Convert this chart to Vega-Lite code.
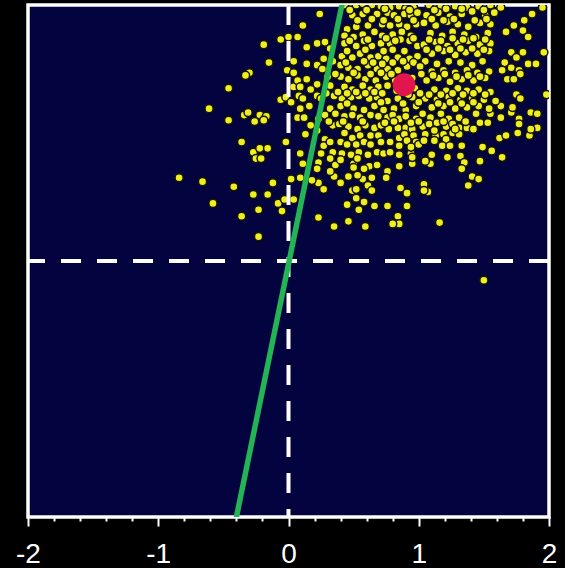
{
  "$schema": "https://vega.github.io/schema/vega-lite/v6.json",
  "width": 521,
  "height": 512,
  "autosize": "none",
  "padding": {"left": 28, "top": 5, "right": 16, "bottom": 51},
  "background": "black",
  "config": {"view": {"fill": "#03033f", "stroke": "white", "strokeWidth": 3.5}},
  "datasets": {
    "samples": [
      {"x":-0.15,"y":1.55},{"x":-0.30,"y":1.47},{"x":-0.33,"y":1.45},{"x":-0.01,"y":1.49},{"x":-0.46,"y":1.35},{"x":-0.61,"y":1.19},{"x":-0.46,"y":1.10},{"x":-0.34,"y":1.14},{"x":-0.31,"y":1.16},{"x":-0.22,"y":1.14},{"x":-0.17,"y":1.13},{"x":-0.26,"y":1.09},{"x":-0.19,"y":1.10},{"x":-0.06,"y":1.26},{"x":-0.02,"y":1.28},{"x":0.02,"y":1.24},{"x":-0.36,"y":0.93},{"x":-0.02,"y":0.93},{"x":-0.27,"y":0.85},{"x":-0.22,"y":0.88},{"x":-0.16,"y":0.88},{"x":-0.25,"y":0.80},{"x":-0.21,"y":0.80},{"x":-0.84,"y":0.65},{"x":-0.66,"y":0.62},{"x":-0.42,"y":0.58},{"x":-0.12,"y":0.61},{"x":0.02,"y":0.64},{"x":-0.27,"y":0.52},{"x":-0.16,"y":0.52},{"x":-0.58,"y":0.45},{"x":-0.08,"y":0.45},{"x":-0.03,"y":0.48},{"x":-0.05,"y":0.39},{"x":-0.23,"y":0.40},{"x":-0.36,"y":0.35},{"x":-0.23,"y":0.19},{"x":0.04,"y":0.48},
      {"x":0.24,"y":1.93},{"x":0.11,"y":1.84},{"x":-0.19,"y":1.69},{"x":-0.06,"y":1.73},{"x":0.00,"y":1.75},{"x":0.07,"y":1.75},{"x":0.04,"y":1.47},{"x":0.04,"y":1.36},{"x":0.08,"y":1.29},{"x":0.14,"y":1.67},{"x":0.22,"y":1.70},{"x":0.28,"y":1.71},{"x":0.32,"y":1.66},{"x":0.14,"y":1.54},{"x":0.22,"y":1.53},{"x":0.27,"y":1.58},{"x":0.34,"y":1.56},{"x":0.07,"y":1.41},{"x":0.14,"y":1.42},{"x":0.22,"y":1.38},{"x":0.11,"y":1.27},{"x":0.16,"y":1.21},{"x":0.22,"y":1.29},{"x":0.07,"y":1.12},{"x":0.12,"y":1.12},{"x":0.17,"y":1.06},{"x":0.23,"y":1.11},{"x":0.13,"y":0.99},{"x":0.22,"y":1.02},{"x":0.28,"y":0.95},{"x":0.27,"y":0.90},{"x":0.32,"y":0.93},
      {"x":0.43,"y":2.00},{"x":0.52,"y":2.00},{"x":0.57,"y":2.01},{"x":0.64,"y":2.00},{"x":0.71,"y":1.99},{"x":0.78,"y":1.98},{"x":0.85,"y":1.99},{"x":0.90,"y":1.97},{"x":0.96,"y":1.98},
      {"x":0.49,"y":1.92},{"x":0.57,"y":1.93},{"x":0.68,"y":1.93},{"x":0.76,"y":1.94},{"x":0.81,"y":1.92},{"x":0.89,"y":1.93},{"x":0.94,"y":1.92},{"x":0.99,"y":1.94},
      {"x":0.45,"y":1.81},{"x":0.52,"y":1.83},{"x":0.61,"y":1.84},{"x":0.72,"y":1.85},{"x":0.78,"y":1.84},{"x":0.85,"y":1.85},{"x":0.91,"y":1.83},{"x":0.98,"y":1.85},
      {"x":0.43,"y":1.76},{"x":0.50,"y":1.75},{"x":0.57,"y":1.77},{"x":0.66,"y":1.79},{"x":0.72,"y":1.76},{"x":0.80,"y":1.77},{"x":0.87,"y":1.79},{"x":0.94,"y":1.76},
      {"x":0.43,"y":1.70},{"x":0.52,"y":1.68},{"x":0.58,"y":1.72},{"x":0.64,"y":1.68},{"x":0.71,"y":1.70},{"x":0.78,"y":1.70},{"x":0.86,"y":1.73},{"x":0.93,"y":1.72},{"x":0.99,"y":1.68},
      {"x":0.41,"y":1.60},{"x":0.49,"y":1.59},{"x":0.55,"y":1.62},{"x":0.63,"y":1.59},{"x":0.69,"y":1.60},{"x":0.75,"y":1.58},{"x":0.84,"y":1.59},{"x":0.93,"y":1.58},{"x":0.99,"y":1.60},{"x":0.04,"y":1.56},
      {"x":0.26,"y":1.50},{"x":0.40,"y":1.53},{"x":0.46,"y":1.51},{"x":0.53,"y":1.50},{"x":0.61,"y":1.53},{"x":0.68,"y":1.50},{"x":0.76,"y":1.50},{"x":0.84,"y":1.49},{"x":0.91,"y":1.52},
      {"x":0.30,"y":1.44},{"x":0.40,"y":1.44},{"x":0.46,"y":1.42},{"x":0.53,"y":1.45},{"x":0.59,"y":1.42},{"x":0.67,"y":1.41},{"x":0.75,"y":1.44},
      {"x":0.09,"y":1.36},{"x":0.17,"y":1.34},{"x":0.32,"y":1.37},{"x":0.43,"y":1.36},{"x":0.49,"y":1.34},{"x":0.57,"y":1.37},{"x":0.63,"y":1.34},{"x":0.69,"y":1.36},{"x":0.76,"y":1.37},
      {"x":0.25,"y":1.27},{"x":0.35,"y":1.29},{"x":0.41,"y":1.27},{"x":0.48,"y":1.28},{"x":0.54,"y":1.29},{"x":0.62,"y":1.27},{"x":0.68,"y":1.28},{"x":0.76,"y":1.25},{"x":0.84,"y":1.27},{"x":0.95,"y":1.28},
      {"x":0.09,"y":1.19},{"x":0.32,"y":1.19},{"x":0.40,"y":1.21},{"x":0.50,"y":1.19},{"x":0.58,"y":1.18},{"x":0.66,"y":1.21},{"x":0.73,"y":1.18},{"x":0.81,"y":1.19},{"x":0.90,"y":1.18},{"x":0.98,"y":1.21},
      {"x":0.82,"y":1.41},{"x":0.95,"y":1.43},{"x":0.97,"y":1.35},{"x":0.83,"y":1.33},{"x":0.92,"y":1.30},
      {"x":0.28,"y":1.14},{"x":0.36,"y":1.15},{"x":0.43,"y":1.13},{"x":0.49,"y":1.14},{"x":0.55,"y":1.12},{"x":0.63,"y":1.14},{"x":0.69,"y":1.13},{"x":0.76,"y":1.12},{"x":0.80,"y":1.14},{"x":0.85,"y":1.11},{"x":0.90,"y":1.13},{"x":0.98,"y":1.11},
      {"x":0.34,"y":1.06},{"x":0.39,"y":1.07},{"x":0.46,"y":1.05},{"x":0.53,"y":1.03},{"x":0.59,"y":1.06},{"x":0.66,"y":1.04},{"x":0.71,"y":1.06},{"x":0.77,"y":1.03},{"x":0.84,"y":1.04},{"x":0.90,"y":1.04},{"x":0.95,"y":1.03},
      {"x":0.43,"y":1.00},{"x":0.49,"y":0.96},{"x":0.55,"y":0.98},{"x":0.63,"y":0.98},{"x":0.69,"y":0.98},{"x":0.85,"y":0.96},{"x":0.89,"y":0.99},{"x":0.96,"y":0.98},
      {"x":0.40,"y":0.93},{"x":0.45,"y":0.91},{"x":0.52,"y":0.91},{"x":0.58,"y":0.93},{"x":0.63,"y":0.91},{"x":0.71,"y":0.93},{"x":0.78,"y":0.93},{"x":0.85,"y":0.90},{"x":0.91,"y":0.94},{"x":0.98,"y":0.93},
      {"x":0.09,"y":0.84},{"x":0.25,"y":0.84},{"x":0.34,"y":0.85},{"x":0.41,"y":0.84},{"x":0.48,"y":0.83},{"x":0.54,"y":0.85},{"x":0.61,"y":0.83},{"x":0.68,"y":0.85},{"x":0.73,"y":0.84},{"x":0.78,"y":0.85},{"x":0.85,"y":0.83},{"x":0.94,"y":0.84},
      {"x":0.23,"y":0.77},{"x":0.36,"y":0.75},{"x":0.50,"y":0.76},{"x":0.62,"y":0.74},{"x":0.68,"y":0.75},{"x":0.85,"y":0.74},{"x":0.95,"y":0.76},{"x":0.76,"y":0.70},
      {"x":0.35,"y":0.66},{"x":0.46,"y":0.66},{"x":0.57,"y":0.64},{"x":0.64,"y":0.65},{"x":0.75,"y":0.65},
      {"x":0.23,"y":0.61},{"x":0.27,"y":0.56},{"x":0.40,"y":0.61},{"x":0.49,"y":0.55},{"x":0.61,"y":0.59},{"x":0.64,"y":0.55},{"x":0.86,"y":0.57},{"x":0.91,"y":0.53},
      {"x":0.52,"y":0.49},{"x":0.45,"y":0.44},{"x":0.54,"y":0.40},{"x":0.58,"y":0.46},{"x":0.66,"y":0.43},{"x":0.76,"y":0.43},{"x":0.91,"y":0.43},
      {"x":0.23,"y":0.34},{"x":0.35,"y":0.27},{"x":0.46,"y":0.31},{"x":0.59,"y":0.27},{"x":0.84,"y":0.35},{"x":0.85,"y":0.29},{"x":0.80,"y":0.29},{"x":0.09,"y":0.65},
      {"x":0.11,"y":0.76},{"x":0.22,"y":0.72},{"x":0.18,"y":0.63},{"x":0.32,"y":0.70},{"x":0.32,"y":0.80},{"x":0.40,"y":0.79},{"x":0.53,"y":0.80},{"x":0.58,"y":0.72},
      {"x":0.95,"y":0.81},{"x":0.53,"y":0.67},{"x":0.52,"y":0.56},{"x":1.04,"y":0.60},{"x":1.07,"y":0.54},{"x":0.50,"y":0.73},{"x":0.94,"y":0.89},{"x":1.00,"y":0.91},
      {"x":1.03,"y":1.15},{"x":1.09,"y":1.12},{"x":1.17,"y":1.15},{"x":1.23,"y":1.11},{"x":1.31,"y":1.12},{"x":1.03,"y":1.05},{"x":1.08,"y":1.07},{"x":1.14,"y":1.08},{"x":1.21,"y":1.05},{"x":1.26,"y":1.07},{"x":1.31,"y":1.04},{"x":1.05,"y":0.99},{"x":1.13,"y":0.98},{"x":1.19,"y":0.99},{"x":1.26,"y":1.00},{"x":1.31,"y":0.99},{"x":1.04,"y":0.94},{"x":1.12,"y":0.94},{"x":1.21,"y":0.95},
      {"x":1.37,"y":1.04},{"x":1.42,"y":1.03},{"x":1.47,"y":1.08},{"x":1.53,"y":1.08},{"x":1.55,"y":1.15},{"x":1.63,"y":1.12},{"x":1.71,"y":1.16},{"x":1.77,"y":1.11},{"x":1.86,"y":1.16},{"x":1.91,"y":1.15},{"x":1.62,"y":0.96},{"x":1.67,"y":0.98},{"x":1.76,"y":1.00},{"x":1.85,"y":0.98},{"x":1.91,"y":1.04},
      {"x":1.18,"y":0.90},{"x":1.24,"y":0.90},{"x":1.33,"y":0.90},{"x":1.49,"y":0.89},{"x":1.56,"y":0.86},{"x":1.64,"y":0.81},{"x":1.22,"y":0.81},{"x":1.32,"y":0.82},{"x":1.10,"y":0.83},{"x":1.09,"y":0.76},{"x":1.05,"y":0.78},{"x":1.35,"y":0.77},{"x":1.33,"y":0.72},{"x":1.47,"y":0.78},{"x":1.41,"y":0.66},{"x":1.46,"y":0.64},{"x":1.38,"y":0.59},{"x":1.04,"y":0.55},{"x":1.16,"y":0.30},{"x":1.50,"y":-0.15},
      {"x":1.67,"y":1.79},{"x":1.73,"y":1.84},{"x":1.80,"y":1.80},{"x":1.84,"y":1.75},{"x":1.81,"y":1.88},{"x":1.87,"y":1.93},{"x":1.95,"y":1.98},{"x":1.66,"y":1.55},{"x":1.71,"y":1.63},{"x":1.75,"y":1.59},{"x":1.80,"y":1.63},{"x":1.84,"y":1.54},{"x":1.71,"y":1.51},{"x":1.77,"y":1.49},{"x":1.64,"y":1.49},{"x":1.68,"y":1.42},{"x":1.73,"y":1.42},{"x":1.78,"y":1.46},{"x":1.96,"y":1.63},{"x":1.98,"y":1.30},{"x":1.90,"y":1.54},{"x":1.75,"y":1.30},{"x":1.78,"y":1.27},{"x":1.63,"y":1.21},{"x":1.72,"y":1.20},{"x":1.54,"y":1.19},{"x":1.59,"y":1.25},{"x":1.44,"y":1.15},{"x":1.77,"y":1.07},{"x":1.86,"y":1.03},
      {"x":1.08,"y":2.00},{"x":1.17,"y":1.99},{"x":1.28,"y":1.99},{"x":1.37,"y":1.98},{"x":1.46,"y":1.99},{"x":1.55,"y":2.00},{"x":1.63,"y":1.98},
      {"x":1.06,"y":1.92},{"x":1.15,"y":1.94},{"x":1.24,"y":1.91},{"x":1.33,"y":1.93},{"x":1.41,"y":1.95},{"x":1.51,"y":1.92},{"x":1.58,"y":1.94},
      {"x":1.04,"y":1.86},{"x":1.13,"y":1.84},{"x":1.22,"y":1.87},{"x":1.30,"y":1.85},{"x":1.38,"y":1.83},{"x":1.47,"y":1.86},{"x":1.55,"y":1.85},
      {"x":1.09,"y":1.78},{"x":1.18,"y":1.76},{"x":1.26,"y":1.79},{"x":1.35,"y":1.77},{"x":1.44,"y":1.75},{"x":1.53,"y":1.78},
      {"x":1.04,"y":1.69},{"x":1.13,"y":1.71},{"x":1.22,"y":1.68},{"x":1.30,"y":1.70},{"x":1.38,"y":1.72},{"x":1.47,"y":1.69},{"x":1.55,"y":1.70},
      {"x":1.10,"y":1.62},{"x":1.19,"y":1.64},{"x":1.28,"y":1.61},{"x":1.36,"y":1.63},{"x":1.45,"y":1.62},{"x":1.54,"y":1.64},
      {"x":1.05,"y":1.56},{"x":1.14,"y":1.54},{"x":1.23,"y":1.56},{"x":1.32,"y":1.55},{"x":1.41,"y":1.53},{"x":1.49,"y":1.56},
      {"x":1.10,"y":1.48},{"x":1.19,"y":1.49},{"x":1.28,"y":1.47},{"x":1.37,"y":1.49},{"x":1.45,"y":1.47},{"x":1.54,"y":1.48},
      {"x":1.06,"y":1.41},{"x":1.15,"y":1.43},{"x":1.24,"y":1.40},{"x":1.33,"y":1.42},{"x":1.42,"y":1.41},{"x":1.51,"y":1.43},
      {"x":1.12,"y":1.34},{"x":1.21,"y":1.33},{"x":1.30,"y":1.35},{"x":1.37,"y":1.33},{"x":1.46,"y":1.34},{"x":1.55,"y":1.32},
      {"x":1.05,"y":1.27},{"x":1.14,"y":1.26},{"x":1.23,"y":1.28},{"x":1.32,"y":1.26},{"x":1.41,"y":1.27},{"x":1.50,"y":1.26},
      {"x":1.10,"y":1.20},{"x":1.19,"y":1.21},{"x":1.28,"y":1.19},{"x":1.37,"y":1.20},{"x":1.46,"y":1.21},
      {"x":0.47,"y":1.96},{"x":0.60,"y":1.96},{"x":0.74,"y":1.97},{"x":0.93,"y":1.96},{"x":1.12,"y":1.96},{"x":1.21,"y":1.97},{"x":1.33,"y":1.97},{"x":1.50,"y":1.96},
      {"x":0.53,"y":1.88},{"x":0.64,"y":1.89},{"x":0.73,"y":1.88},{"x":0.84,"y":1.89},{"x":0.96,"y":1.88},{"x":1.10,"y":1.89},{"x":1.19,"y":1.88},{"x":1.27,"y":1.89},{"x":1.43,"y":1.88},{"x":1.52,"y":1.89},
      {"x":0.47,"y":1.72},{"x":0.61,"y":1.73},{"x":0.75,"y":1.74},{"x":0.82,"y":1.72},{"x":0.96,"y":1.74},{"x":1.08,"y":1.73},{"x":1.17,"y":1.72},{"x":1.26,"y":1.74},{"x":1.34,"y":1.73},{"x":1.42,"y":1.74},{"x":1.51,"y":1.73},
      {"x":0.45,"y":1.64},{"x":0.59,"y":1.65},{"x":0.73,"y":1.64},{"x":0.80,"y":1.65},{"x":0.89,"y":1.64},{"x":1.06,"y":1.65},{"x":1.15,"y":1.66},{"x":1.24,"y":1.65},{"x":1.32,"y":1.66},{"x":1.41,"y":1.66},{"x":1.50,"y":1.65},
      {"x":0.44,"y":1.55},{"x":0.58,"y":1.56},{"x":0.65,"y":1.55},{"x":0.72,"y":1.54},{"x":0.80,"y":1.55},{"x":0.88,"y":1.56},{"x":0.96,"y":1.55},{"x":1.01,"y":1.52},
      {"x":0.36,"y":1.46},{"x":0.50,"y":1.47},{"x":0.63,"y":1.46},{"x":0.71,"y":1.47},{"x":0.79,"y":1.46},{"x":1.02,"y":1.46},{"x":1.11,"y":1.45},{"x":1.20,"y":1.46},{"x":1.29,"y":1.44},{"x":1.38,"y":1.45},{"x":1.47,"y":1.44},
      {"x":0.29,"y":1.31},{"x":0.38,"y":1.32},{"x":0.45,"y":1.31},{"x":0.52,"y":1.32},{"x":0.59,"y":1.31},{"x":0.66,"y":1.32},{"x":0.72,"y":1.31},{"x":1.01,"y":1.31},{"x":1.08,"y":1.30},{"x":1.17,"y":1.30},{"x":1.26,"y":1.31},{"x":1.34,"y":1.30},{"x":1.42,"y":1.31},{"x":1.51,"y":1.30},
      {"x":0.45,"y":1.23},{"x":0.71,"y":1.24},{"x":0.88,"y":1.23},{"x":1.00,"y":1.24},{"x":1.15,"y":1.23},{"x":1.24,"y":1.24},{"x":1.33,"y":1.23},{"x":1.42,"y":1.24},
      {"x":0.31,"y":1.09},{"x":0.42,"y":1.09},{"x":0.57,"y":1.09},{"x":0.74,"y":1.08},{"x":0.81,"y":1.09},{"x":0.94,"y":1.08},{"x":1.00,"y":1.09},{"x":1.12,"y":1.02},{"x":1.19,"y":1.09},{"x":1.28,"y":1.03},{"x":1.36,"y":1.09}
    ],
    "fit": [{"x":-0.42,"y":-2.1},{"x":0.43,"y":2.1}],
    "mean": [{"x":0.887,"y":1.377}],
    "zero": [{"v":0}]
  },
  "resolve": {"axis": {"x": "independent"}},
  "layer": [
    {
      "data": {"name": "samples"},
      "mark": {"type": "circle", "size": 66, "fill": "#eeee22", "stroke": "#141400", "strokeWidth": 1.5, "opacity": 1, "fillOpacity": 1, "clip": true},
      "encoding": {
        "x": {"field": "x", "type": "quantitative", "scale": {"domain": [-2, 2], "nice": false, "zero": false},
          "axis": {"orient": "bottom", "values": [-1.8,-1.6,-1.4,-1.2,-0.8,-0.6,-0.4,-0.2,0.2,0.4,0.6,0.8,1.2,1.4,1.6,1.8],
            "domain": false, "grid": false, "title": null, "tickColor": "white", "tickWidth": 2, "tickSize": 4, "labels": false}},
        "y": {"field": "y", "type": "quantitative", "scale": {"domain": [-2, 2], "nice": false, "zero": false}, "axis": null}
      }
    },
    {
      "data": {"name": "zero"},
      "mark": {"type": "rule", "color": "white", "strokeWidth": 4, "strokeDash": [20, 16]},
      "encoding": {"x": {"field": "v", "type": "quantitative",
        "axis": {"orient": "bottom", "values": [-2, -1, 0, 1, 2], "domain": false, "grid": false, "title": null,
          "tickColor": "white", "tickWidth": 2, "tickSize": 9,
          "labelExpr": "'' + datum.value",
          "labelColor": "white", "labelFont": "Liberation Sans", "labelFontSize": 28, "labelPadding": 14.5,
          "labelFlush": false, "labelOverlap": false, "labelBound": false}}}
    },
    {
      "data": {"name": "zero"},
      "mark": {"type": "rule", "color": "white", "strokeWidth": 4, "strokeDash": [20, 16]},
      "encoding": {"y": {"field": "v", "type": "quantitative"}}
    },
    {
      "data": {"name": "fit"},
      "mark": {"type": "line", "color": "#22b455", "strokeWidth": 5.5, "clip": true},
      "encoding": {"x": {"field": "x", "type": "quantitative", "axis": null}, "y": {"field": "y", "type": "quantitative"}}
    },
    {
      "data": {"name": "mean"},
      "mark": {"type": "circle", "size": 520, "color": "#e3154f", "opacity": 1},
      "encoding": {"x": {"field": "x", "type": "quantitative", "axis": null}, "y": {"field": "y", "type": "quantitative"}}
    }
  ]
}
